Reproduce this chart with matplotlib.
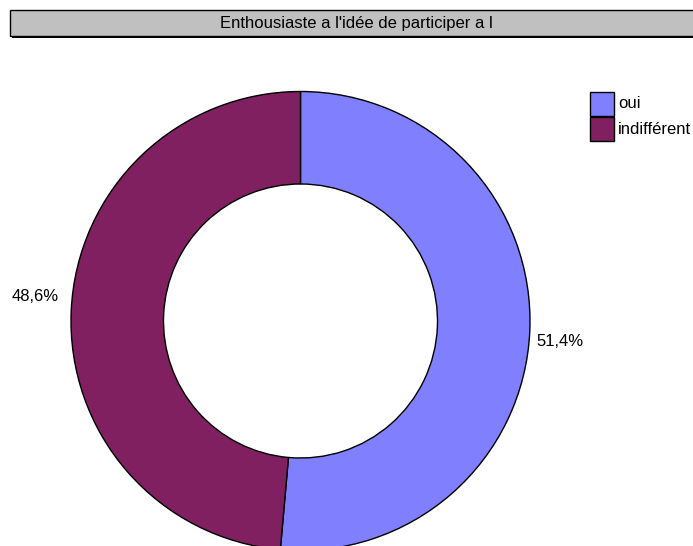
import numpy as np
import matplotlib
matplotlib.use("Agg")
import matplotlib.pyplot as plt
from matplotlib.patches import Rectangle

plt.rcParams['font.family'] = ['Liberation Sans', 'DejaVu Sans']

title = "Enthousiaste a l'idée de participer a l"
categories = ["oui", "indifférent"]
values = [51.4, 48.6]
value_labels = ["51,4%", "48,6%"]
colors = ["#8080FF", "#802060"]

W, H = 693, 546
fig = plt.figure(figsize=(W / 100, H / 100), dpi=100)
ax = fig.add_axes([0, 0, 1, 1])

cx, cy, R = 300.5, H - 321, 229.5
wedges, _ = ax.pie(values, colors=colors, startangle=90, counterclock=False,
                   radius=R, center=(cx, cy),
                   wedgeprops=dict(width=R - 137, edgecolor='black', linewidth=1.0),
                   frame=True)
ax.set_xlim(0, W)
ax.set_ylim(0, H)
ax.set_aspect('equal')
ax.axis('off')

# data labels (offsets in pixels -> points at 100 dpi)
label_offsets_px = [(0, -3), (-6, 7)]
for w, lab, off in zip(wedges, value_labels, label_offsets_px):
    ang = np.deg2rad((w.theta1 + w.theta2) / 2)
    x = cx + 1.03 * R * np.cos(ang)
    y = cy + 1.03 * R * np.sin(ang)
    ha = 'left' if np.cos(ang) > 0 else 'right'
    va = 'top' if np.sin(ang) < 0 else 'bottom'
    ax.annotate(lab, (x, y), xytext=(off[0] * 0.72, off[1] * 0.72),
                textcoords='offset points', ha=ha, va=va, fontsize=12, color='black')

# title box with shadow
ax.add_patch(Rectangle((12, H - 38), 700, 27, facecolor='black',
                       edgecolor='none', clip_on=False))
ax.add_patch(Rectangle((10, H - 36), 700, 26, facecolor='#C0C0C0',
                       edgecolor='black', linewidth=1.0, clip_on=False))
ax.text(356, H - 23.5, title, ha='center', va='center', fontsize=12, color='black')

# legend (drawn as swatches + text, using the wedges' colours)
lx, ly_top, sq, pitch = 590, 92, 24, 25
for i, (w, cat) in enumerate(zip(wedges, categories)):
    top = ly_top + i * pitch
    ax.add_patch(Rectangle((lx, H - top - sq), sq, sq, facecolor=w.get_facecolor(),
                           edgecolor='black', linewidth=1.0))
    ax.text(lx + sq + 4, H - top - sq / 2, cat, ha='left', va='center',
            fontsize=12, color='black')

fig.savefig("out.png", dpi=100)
